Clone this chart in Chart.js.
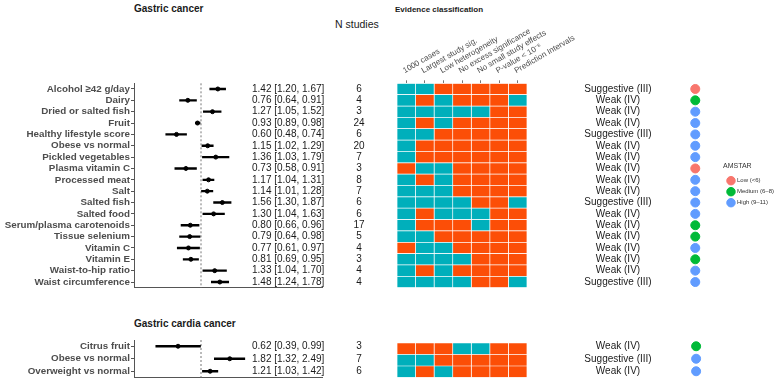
<!DOCTYPE html>
<html>
<head>
<meta charset="utf-8">
<script src="https://cdn.jsdelivr.net/npm/chart.js@4.4.1/dist/chart.umd.min.js"></script>
<style>
body { margin: 0; background: #fff; }
#wrap { position: relative; width: 775px; height: 382px; overflow: hidden; font-family: "Liberation Sans", Arial, sans-serif; color: #1a1a1a; }
canvas { position: absolute; }
.hd { position: absolute; white-space: nowrap; line-height: 1; }
</style>
</head>
<body>
<div id="wrap">
  <div class="hd" style="left:134px;top:4px;font-size:10px;font-weight:bold;">Gastric cancer</div>
  <div class="hd" style="left:335px;top:18.5px;font-size:10.5px;">N studies</div>
  <div class="hd" style="left:395px;top:6px;font-size:8px;font-weight:bold;">Evidence classification</div>
  <div class="hd" style="left:134px;top:318.5px;font-size:10px;font-weight:bold;">Gastric cardia cancer</div>

  <canvas id="forestTop" width="400" height="300" style="left:0;top:0"></canvas>
  <canvas id="heatTop" width="220" height="300" style="left:380px;top:0"></canvas>
  <canvas id="classTop" width="224" height="300" style="left:560px;top:0"></canvas>

  <canvas id="forestBot" width="400" height="60" style="left:0;top:330px"></canvas>
  <canvas id="heatBot" width="220" height="60" style="left:380px;top:330px"></canvas>
  <canvas id="classBot" width="224" height="60" style="left:560px;top:330px"></canvas>
</div>
<script>
// gastric cancer
let gcLabels = ['Alcohol ≥42 g/day', 'Dairy', 'Dried or salted fish', 'Fruit', 'Healthy lifestyle score',
    'Obese vs normal', 'Pickled vegetables', 'Plasma vitamin C', 'Processed meat', 'Salt', 'Salted fish',
    'Salted food', 'Serum/plasma carotenoids', 'Tissue selenium', 'Vitamin C', 'Vitamin E',
    'Waist-to-hip ratio', 'Waist circumference'];
let gcEst  = [1.42, 0.76, 1.27, 0.93, 0.60, 1.15, 1.36, 0.73, 1.17, 1.14, 1.56, 1.30, 0.80, 0.79, 0.77, 0.81, 1.33, 1.48];
let gcLow  = [1.20, 0.64, 1.05, 0.89, 0.48, 1.02, 1.03, 0.58, 1.04, 1.01, 1.30, 1.04, 0.66, 0.64, 0.61, 0.69, 1.04, 1.24];
let gcHigh = [1.67, 0.91, 1.52, 0.98, 0.74, 1.29, 1.79, 0.91, 1.31, 1.28, 1.87, 1.63, 0.96, 0.98, 0.97, 0.95, 1.70, 1.78];
let gcN    = [6, 4, 3, 24, 6, 20, 7, 3, 8, 7, 6, 6, 17, 5, 4, 3, 4, 4];
let gcClass = ['Suggestive (III)', 'Weak (IV)', 'Weak (IV)', 'Weak (IV)', 'Suggestive (III)', 'Weak (IV)',
    'Weak (IV)', 'Weak (IV)', 'Weak (IV)', 'Weak (IV)', 'Suggestive (III)', 'Weak (IV)', 'Weak (IV)',
    'Weak (IV)', 'Weak (IV)', 'Weak (IV)', 'Weak (IV)', 'Suggestive (III)'];
let gcAmstar = ['Low', 'Medium', 'High', 'High', 'High', 'High', 'High', 'Low', 'High', 'High', 'High',
    'High', 'Medium', 'Medium', 'High', 'Medium', 'High', 'High'];
// 1 = criterion met, 0 = not met (one char per criterion)
let gcCriteria = ['1100000', '1010001', '1111100', '1010000', '1100000', '1000000', '1000000', '0110000',
    '1010000', '1110000', '1111001', '1011100', '1000100', '1100000', '0110000', '1111000', '1010000', '1111001'];

// gastric cardia cancer
let gccLabels = ['Citrus fruit', 'Obese vs normal', 'Overweight vs normal'];
let gccEst  = [0.62, 1.82, 1.21];
let gccLow  = [0.39, 1.32, 1.03];
let gccHigh = [0.99, 2.49, 1.42];
let gccN    = [3, 7, 6];
let gccClass = ['Weak (IV)', 'Suggestive (III)', 'Weak (IV)'];
let gccAmstar = ['Medium', 'High', 'High'];
let gccCriteria = ['0001100', '1100000', '1010000'];

let critLabels = ['1000 cases', 'Largest study sig.', 'Low heterogeneity', 'No excess significance',
    'No small study effects', 'P-value < 10⁻⁶', 'Prediction Intervals'];
let amstarLevels = ['Low', 'Medium', 'High'];
let amstarNames = ['Low (<6)', 'Medium (6–8)', 'High (9–11)'];
let amstarColors = ['#F8766D', '#00BA38', '#619CFF'];

const TEAL = '#00AFBB';
const ORANGE = '#FC4E07';
const FONT = '"Liberation Sans", Arial, sans-serif';
const X_MIN = 0.2477, X_MAX = 12.43;
const DOT_X = 0.83;

Chart.defaults.font.family = FONT;
Chart.defaults.animation = false;
Chart.defaults.responsive = false;

function fmt(v) { return v.toFixed(2); }

function forestPlugin(est, low, high, n) {
    return {
        id: 'forestText',
        beforeDatasetsDraw(chart) {
            const {ctx, chartArea, scales: {x}} = chart;
            const x1 = x.getPixelForValue(1);
            ctx.save();
            ctx.strokeStyle = '#777';
            ctx.lineWidth = 1;
            ctx.setLineDash([2, 2]);
            ctx.beginPath();
            ctx.moveTo(x1, chartArea.top);
            ctx.lineTo(x1, chartArea.bottom);
            ctx.stroke();
            ctx.restore();
        },
        afterDatasetsDraw(chart) {
            const {ctx, chartArea, scales: {y}} = chart;
            ctx.save();
            ctx.font = '10px ' + FONT;
            ctx.fillStyle = '#1a1a1a';
            ctx.textBaseline = 'middle';
            est.forEach(function(e, i) {
                let py = y.getPixelForValue(i);
                ctx.textAlign = 'left';
                ctx.fillText(fmt(e) + ' [' + fmt(low[i]) + ', ' + fmt(high[i]) + ']', chartArea.left + 118, py);
                ctx.textAlign = 'center';
                ctx.fillText(String(n[i]), chartArea.left + 225, py);
            });
            ctx.restore();
        }
    };
}

function makeForest(id, labels, est, low, high, n, padTop, padBottom) {
    return new Chart(document.getElementById(id), {
        type: 'bar',
        data: {
            labels: labels,
            datasets: [{
                type: 'bar',
                data: low.map(function(l, i) { return [l, high[i]]; }),
                backgroundColor: '#000',
                barThickness: 1.7
            }, {
                type: 'scatter',
                data: est.map(function(e, i) { return {x: e, y: labels[i]}; }),
                backgroundColor: '#000',
                borderColor: '#000',
                pointRadius: 2
            }]
        },
        options: {
            indexAxis: 'y',
            layout: {autoPadding: false, padding: {top: padTop, bottom: padBottom, left: 0, right: 78}},
            plugins: {legend: {display: false}, tooltip: {enabled: false}},
            scales: {
                x: {
                    type: 'logarithmic', min: X_MIN, max: X_MAX,
                    afterFit: function(s) { s.height = 0; },
                    ticks: {display: false},
                    grid: {display: false},
                    border: {display: true, color: '#555', width: 1}
                },
                y: {
                    type: 'category', offset: true,
                    afterFit: function(s) { s.width = 134; },
                    ticks: {font: {size: 9.8, weight: 'bold'}, color: '#4d4d4d', padding: 1, autoSkip: false},
                    grid: {drawOnChartArea: false, tickLength: 3, offset: false, color: '#555'},
                    border: {display: true, color: '#555', width: 1}
                }
            }
        },
        plugins: [forestPlugin(est, low, high, n)]
    });
}

// rotated criterion names above the heatmap columns
const critHeader = {
    id: 'critHeader',
    afterDraw(chart) {
        const {ctx, chartArea, scales: {x}} = chart;
        ctx.save();
        ctx.font = '8px ' + FONT;
        ctx.fillStyle = '#4d4d4d';
        ctx.textAlign = 'left';
        ctx.textBaseline = 'alphabetic';
        critLabels.forEach(function(c, i) {
            ctx.save();
            ctx.translate(x.getPixelForValue(i + 0.5) - 1.5, chartArea.top - 10);
            ctx.rotate(-Math.PI / 6);
            ctx.fillText(c, 0, 0);
            ctx.restore();
        });
        ctx.restore();
    }
};

function makeHeat(id, labels, crit, showHeader, padTop, padBottom) {
    let datasets = critLabels.map(function(c, j) {
        return {
            data: crit.map(function() { return 1; }),
            backgroundColor: crit.map(function(s) { return s[j] === '1' ? TEAL : ORANGE; }),
            borderColor: '#fff',
            borderWidth: 0.7,
            borderSkipped: false,
            barPercentage: 1,
            categoryPercentage: 1
        };
    });
    return new Chart(document.getElementById(id), {
        type: 'bar',
        data: {labels: labels, datasets: datasets},
        options: {
            indexAxis: 'y',
            layout: {autoPadding: false, padding: {top: padTop, bottom: padBottom, left: 17, right: 73}},
            plugins: {legend: {display: false}, tooltip: {enabled: false}},
            scales: {
                x: {
                    type: 'linear', position: 'top', stacked: true, min: 0, max: 7,
                    display: showHeader,
                    afterBuildTicks: function(s) { s.ticks = critLabels.map(function(c, i) { return {value: i + 0.5}; }); },
                    afterFit: function(s) { s.height = 3; },
                    ticks: {display: false},
                    grid: {drawOnChartArea: false, tickLength: 3, color: '#777'},
                    border: {display: false}
                },
                y: {type: 'category', stacked: true, offset: true, display: false}
            }
        },
        plugins: showHeader ? [critHeader] : []
    });
}

function classPlugin(cls) {
    return {
        id: 'classText',
        afterDatasetsDraw(chart) {
            const {ctx, chartArea, scales: {y}} = chart;
            ctx.save();
            ctx.font = '10px ' + FONT;
            ctx.fillStyle = '#1a1a1a';
            ctx.textBaseline = 'middle';
            ctx.textAlign = 'center';
            cls.forEach(function(c, i) {
                ctx.fillText(c, chartArea.left + 58, y.getPixelForValue(i));
            });
            ctx.restore();
        }
    };
}

function makeClass(id, labels, cls, amstar, withLegend, padTop, padBottom) {
    let datasets = amstarLevels.map(function(lev, k) {
        return {
            type: 'scatter',
            label: amstarNames[k],
            data: labels.map(function(l, i) { return amstar[i] === lev ? {x: DOT_X, y: l} : null; })
                .filter(function(p) { return p !== null; }),
            backgroundColor: amstarColors[k],
            borderColor: amstarColors[k],
            pointRadius: 4.5,
            pointStyle: 'circle',
            clip: false
        };
    });
    return new Chart(document.getElementById(id), {
        type: 'scatter',
        data: {labels: labels, datasets: datasets},
        options: {
            layout: {autoPadding: false, padding: {top: padTop, bottom: padBottom, left: 0, right: withLegend ? 0 : 60}},
            plugins: {
                tooltip: {enabled: false},
                legend: {
                    display: withLegend, position: 'right', align: 'center', fullSize: false,
                    title: {display: true, text: 'AMSTAR', font: {size: 7}, color: '#333', position: 'start', padding: 2},
                    labels: {usePointStyle: true, pointStyle: 'circle', font: {size: 6}, color: '#333', padding: 5}
                }
            },
            scales: {
                x: {type: 'linear', min: 0, max: 1, display: false},
                y: {type: 'category', offset: true, display: false}
            }
        },
        plugins: [classPlugin(cls)]
    });
}

makeForest('forestTop', gcLabels, gcEst, gcLow, gcHigh, gcN, 83.3, 12.3);
makeHeat('heatTop', gcLabels, gcCriteria, true, 80.3, 12.3);
makeClass('classTop', gcLabels, gcClass, gcAmstar, true, 83.3, 12.3);

makeForest('forestBot', gccLabels, gccEst, gccLow, gccHigh, gccN, 10, 12.5);
makeHeat('heatBot', gccLabels, gccCriteria, false, 10, 12.5);
makeClass('classBot', gccLabels, gccClass, gccAmstar, false, 10, 12.5);
</script>
</body>
</html>
